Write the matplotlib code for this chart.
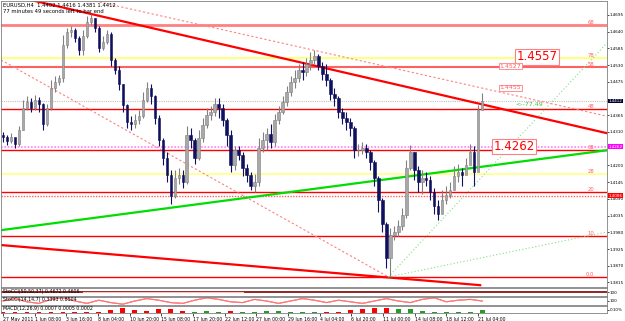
import matplotlib.pyplot as plt
import matplotlib.transforms as mtransforms
from matplotlib.patches import Rectangle

# --- DATA: EURUSD H4 (one candle = two H4 bars) ---
first_open = 1.4300
closes = [1.4293, 1.4280, 1.4293, 1.4270, 1.4316, 1.4389, 1.4408, 1.4389, 1.4415, 1.4402,
          1.4336, 1.4389, 1.4455, 1.4474, 1.4488, 1.4596, 1.4638, 1.4645, 1.4619, 1.4580,
          1.4625, 1.4671, 1.4685, 1.4652, 1.4586, 1.4606, 1.4632, 1.4547, 1.4514, 1.4468,
          1.4399, 1.4342, 1.4336, 1.4349, 1.4362, 1.4415, 1.4455, 1.4428, 1.4356, 1.4283,
          1.4224, 1.4168, 1.4099, 1.4159, 1.4168, 1.4145, 1.4300, 1.4283, 1.4224, 1.4290,
          1.4333, 1.4366, 1.4375, 1.4402, 1.4389, 1.4349, 1.4300, 1.4201, 1.4250, 1.4234,
          1.4191, 1.4168, 1.4132, 1.4145, 1.4257, 1.4283, 1.4303, 1.4276, 1.4349, 1.4375,
          1.4408, 1.4441, 1.4474, 1.4488, 1.4514, 1.4507, 1.4534, 1.4547, 1.4560, 1.4527,
          1.4501, 1.4481, 1.4435, 1.4422, 1.4375, 1.4356, 1.4342, 1.4323, 1.4250, 1.4250,
          1.4257, 1.4243, 1.4211, 1.4159, 1.4086, 1.4007, 1.3895, 1.3971, 1.3981, 1.4001,
          1.4037, 1.4191, 1.4243, 1.4185, 1.4145, 1.4159, 1.4152, 1.4112, 1.4066, 1.4040,
          1.4086, 1.4103, 1.4119, 1.4165, 1.4178, 1.4168, 1.4201, 1.4243, 1.4178, 1.4382,
          1.4412]
highs = [1.4309, 1.4300, 1.4306, 1.4290, 1.4329, 1.4415, 1.4428, 1.4422, 1.4432, 1.4425,
         1.4405, 1.4402, 1.4481, 1.4494, 1.4497, 1.4629, 1.4652, 1.4658, 1.4652, 1.4625,
         1.4645, 1.4691, 1.4698, 1.4685, 1.4658, 1.4625, 1.4645, 1.4638, 1.4554, 1.4527,
         1.4468, 1.4402, 1.4362, 1.4369, 1.4382, 1.4441, 1.4474, 1.4468, 1.4432, 1.4366,
         1.4290, 1.4243, 1.4185, 1.4185, 1.4191, 1.4185, 1.4329, 1.4323, 1.4290, 1.4316,
         1.4356, 1.4389, 1.4395, 1.4422, 1.4422, 1.4402, 1.4356, 1.4316, 1.4263, 1.4263,
         1.4243, 1.4205, 1.4178, 1.4172, 1.4290, 1.4309, 1.4323, 1.4336, 1.4369, 1.4395,
         1.4428, 1.4461, 1.4494, 1.4514, 1.4534, 1.4540, 1.4554, 1.4573, 1.4580, 1.4567,
         1.4540, 1.4534, 1.4488, 1.4455, 1.4428, 1.4389, 1.4375, 1.4356, 1.4329, 1.4270,
         1.4276, 1.4270, 1.4250, 1.4218, 1.4165, 1.4093, 1.4014, 1.3994, 1.4001, 1.4020,
         1.4060, 1.4218, 1.4267, 1.4243, 1.4198, 1.4185, 1.4178, 1.4165, 1.4126, 1.4086,
         1.4119, 1.4132, 1.4145, 1.4198, 1.4205, 1.4191, 1.4224, 1.4270, 1.4263, 1.4399,
         1.4438]
lows = [1.4276, 1.4267, 1.4273, 1.4257, 1.4263, 1.4316, 1.4382, 1.4375, 1.4382, 1.4375,
        1.4316, 1.4329, 1.4382, 1.4441, 1.4465, 1.4474, 1.4586, 1.4622, 1.4606, 1.4563,
        1.4563, 1.4619, 1.4662, 1.4638, 1.4573, 1.4580, 1.4599, 1.4527, 1.4501, 1.4448,
        1.4375, 1.4323, 1.4316, 1.4323, 1.4336, 1.4356, 1.4408, 1.4402, 1.4336, 1.4263,
        1.4201, 1.4145, 1.4073, 1.4093, 1.4139, 1.4126, 1.4139, 1.4257, 1.4205, 1.4218,
        1.4276, 1.4323, 1.4349, 1.4362, 1.4356, 1.4329, 1.4263, 1.4178, 1.4185, 1.4218,
        1.4165, 1.4145, 1.4119, 1.4112, 1.4132, 1.4243, 1.4250, 1.4257, 1.4263, 1.4336,
        1.4369, 1.4395, 1.4428, 1.4455, 1.4474, 1.4481, 1.4494, 1.4514, 1.4534, 1.4514,
        1.4481, 1.4461, 1.4415, 1.4395, 1.4356, 1.4336, 1.4316, 1.4296, 1.4224, 1.4230,
        1.4237, 1.4224, 1.4185, 1.4132, 1.4047, 1.3981, 1.3863, 1.3833, 1.3954, 1.3967,
        1.3987, 1.4027, 1.4185, 1.4152, 1.4112, 1.4106, 1.4132, 1.4086, 1.4040, 1.4020,
        1.4047, 1.4073, 1.4093, 1.4132, 1.4145, 1.4132, 1.4178, 1.4218, 1.4132, 1.4185,
        1.4395]

date_labels = ["27 May 2011", "1 Jun 08:00", "3 Jun 16:00", "8 Jun 04:00", "10 Jun 20:00",
               "15 Jun 08:00", "17 Jun 20:00", "22 Jun 12:00", "27 Jun 00:00", "29 Jun 16:00",
               "4 Jul 04:00", "6 Jul 20:00", "11 Jul 00:00", "14 Jul 08:00", "18 Jul 12:00",
               "21 Jul 04:00"]
# price scale labels (1.4420 and 1.4255 are hidden under the price boxes)
price_ticks = [1.4695, 1.4640, 1.4585, 1.4530, 1.4475, 1.4365, 1.4310,
               1.4200, 1.4145, 1.4090, 1.4035, 1.3980, 1.3925, 1.3870, 1.3815]

# horizontal levels (price, fibo label)
level_prices = [1.4662, 1.4553, 1.4524, 1.4385, 1.4250, 1.4171, 1.4112, 1.3967, 1.3833]
level_labels = ["68", "78", "58", "48", "38", "28", "20", "10", "0.0"]
magenta_level = 1.4262
dotted_red_level = 1.4100
last_price = 1.4412
red_box_price = 1.4086

# trendlines: (candle index, price) pairs
upper_trend = [(7, 1.4744), (151.25, 1.4306)]
upper_channel = [(22, 1.4744), (151.25, 1.4362)]
fall_line = [(-0.5, 1.4547), (96.5, 1.3833)]
lower_trend = [(-0.5, 1.3938), (119.5, 1.3806)]
green_trend = [(-0.5, 1.3987), (151.25, 1.4250)]
fan_steep = [(96.5, 1.3833), (151.25, 1.4603)]
fan_flat = [(96.5, 1.3833), (151.25, 1.3981)]

# oscillator windows (one value every three candles)
osc_wave = [0.5, 0.8, 0.4, 0.2, 0.7, 0.9, 0.5, 0.2, 0.6, 0.3, 0.1, 0.5, 0.8, 0.6, 0.3, 0.2,
            0.6, 0.9, 0.7, 0.4, 0.3, 0.7, 0.5, 0.2, 0.5, 0.8, 0.6, 0.3, 0.6, 0.4, 0.2, 0.5,
            0.8, 0.5, 0.3, 0.7, 0.9, 0.4, 0.6, 0.7, 0.5]
hist_vals = [0.1, 0.1, 0.15, 0.1, 0.1, 0.15, 0.1, 0.1, 0.2, 0.5, 0.8, 0.4, 0.3, 0.6, 0.7,
             0.3, -0.2, -0.25, -0.2, 0.3, -0.15, -0.2, -0.35, -0.3, -0.2, -0.15, -0.1, 0.1,
             0.15, 0.4, 0.6, 0.8, 0.9, -0.6, -0.7, -0.3, -0.15, -0.2, -0.15, -0.2, -0.5]

W, H = 625, 321
fig = plt.figure(figsize=(W / 100, H / 100), dpi=100)
fig.patch.set_facecolor("white")


def box(x0, y0, x1, y1):
    return [x0 / W, 1 - y1 / H, (x1 - x0) / W, (y1 - y0) / H]


XMIN, XMAX = -0.5, 151.25
ax = fig.add_axes(box(1, 1, 607, 287))
s1 = fig.add_axes(box(1, 288, 607, 296))
s2 = fig.add_axes(box(1, 297, 607, 305))
s3 = fig.add_axes(box(1, 306, 607, 313))
for a in (ax, s1, s2, s3):
    a.set_xlim(XMIN, XMAX)
    for sp in a.spines.values():
        sp.set_color("#808080")
        sp.set_linewidth(0.6)

ax.set_ylim(1.3800, 1.4741)

# horizontal levels
lv_colors = ["#ff8080", "#ffff80", "#ff6060", "red", "red", "#ffffa0", "red", "red", "red"]
lv_widths = [2.0, 1.5, 1.5, 1.0, 1.0, 1.5, 1.0, 1.0, 1.0]
for p, lab, c, w in zip(level_prices, level_labels, lv_colors, lv_widths):
    ax.axhline(p, color=c, lw=w, zorder=1)
    ax.text(148, p, lab, color="#ff6060", fontsize=3.8, ha="right", va="bottom", zorder=5)
ax.axhline(magenta_level, color="#ff80ff", lw=1.2, ls=(0, (1, 1)), zorder=1)
ax.axhline(dotted_red_level, color="#ff6060", lw=1.0, ls=(0, (1, 1)), zorder=1)
ax.axhline(last_price, color="#c0c0c0", lw=0.8, ls=(0, (1, 1)), zorder=1)


def seg(line, **kw):
    (x0, y0), (x1, y1) = line
    ax.plot([x0, x1], [y0, y1], **kw)


seg(upper_trend, color="red", lw=1.6, zorder=2)
seg(upper_channel, color="#ff8080", lw=0.8, ls=(0, (2, 2)), zorder=2)
seg(fall_line, color="#ff8080", lw=0.8, ls=(0, (2, 2)), zorder=2)
seg(lower_trend, color="red", lw=1.6, zorder=2)
seg(green_trend, color="#00dd00", lw=1.6, zorder=2)
seg(fan_steep, color="#80e080", lw=0.8, ls=(0, (1, 2)), zorder=2)
seg(fan_flat, color="#80e080", lw=0.8, ls=(0, (1, 2)), zorder=2)

# candles
opens = [first_open] + closes[:-1]
for i, (o, h, l, c) in enumerate(zip(opens, highs, lows, closes)):
    bull = c >= o
    col = "#808080" if bull else "#101060"
    face = "#a8a8a8" if bull else "#101060"
    ax.vlines(i, l, h, color=col, lw=0.8, zorder=3)
    ax.add_patch(Rectangle((i - 0.3, min(o, c)), 0.6, max(abs(c - o), 0.0002),
                           facecolor=face, edgecolor=col, lw=0.4, zorder=4))

# price notes
ax.text(133.75, 1.4557, "1.4557", color="red", fontsize=8.5, ha="center", va="center",
        bbox=dict(boxstyle="square,pad=0.1", fc="white", ec="#ff8080", lw=0.8), zorder=6)
ax.text(127, 1.4527, "1.4527", color="#ff6060", fontsize=4.5, ha="center", va="center",
        bbox=dict(boxstyle="square,pad=0.1", fc="white", ec="#ff8080", lw=0.6), zorder=6)
ax.text(127, 1.4455, "1.4455", color="#ff6060", fontsize=4.5, ha="center", va="center",
        bbox=dict(boxstyle="square,pad=0.1", fc="white", ec="#ff8080", lw=0.6), zorder=6)
ax.text(128, 1.4262, "1.4262", color="red", fontsize=8.5, ha="center", va="center",
        bbox=dict(boxstyle="square,pad=0.1", fc="white", ec="#ff8080", lw=0.8), zorder=6)
ax.text(128.25, 1.4399, "<--77.49", color="#40c040", fontsize=4.5, ha="left", va="center",
        zorder=6)

# title
ax.text(0.004, 0.995, "EURUSD,H4  1.4402 1.4416 1.4381 1.4412", transform=ax.transAxes,
        fontsize=3.8, va="top", ha="left")
ax.text(0.004, 0.973, "77 minutes 49 seconds left to bar end", transform=ax.transAxes,
        fontsize=3.8, va="top", ha="left")

# right price scale
ax.yaxis.tick_right()
ax.set_yticks(price_ticks)
ax.set_yticklabels([f"{p:.4f}" for p in price_ticks], fontsize=3.0)
ax.tick_params(axis="y", length=1.5, width=0.5, pad=0.5, colors="black")
ax.set_xticks([])
trans = mtransforms.blended_transform_factory(ax.transAxes, ax.transData)
for p, yp, fc in [(last_price, last_price, "#000030"), (magenta_level, magenta_level, "#ff00ff"),
                  (red_box_price, dotted_red_level, "red")]:
    ax.text(1.003, yp, f"{p:.4f}", transform=trans, fontsize=3.0, color="white", va="center",
            ha="left", bbox=dict(boxstyle="square,pad=0.1", fc=fc, ec="none"),
            zorder=7, clip_on=False)

# oscillator windows
xs = [3 * k for k in range(len(osc_wave))]
s1.set_ylim(0, 1)
s1.plot([XMIN, XMAX], [0.45, 0.45], color="#800000", lw=1.2)
s1.plot([20, 60], [0.55, 0.55], color="#ffc0c0", lw=0.8)
s1.text(0.004, 0.9, "StoCCI(50,50,37) 0.4672 0.4606", transform=s1.transAxes, fontsize=3.4,
        va="top")
s2.set_ylim(0, 1)
s2.plot(xs, osc_wave, color="red", lw=0.8)
s2.plot(xs, osc_wave, color="white", lw=0.3)
s2.text(0.004, 0.95, "StoCCI(14,14,7) 0.3393 0.8504", transform=s2.transAxes, fontsize=3.4,
        va="top")
s3.set_ylim(0, 1)
for x, v in zip(xs, hist_vals):
    s3.bar(x, abs(v) * 0.8, width=1.2, bottom=0.05, color="red" if v > 0 else "#20a020")
s3.axhline(0.06, color="blue", lw=0.6, ls=(0, (1, 1)))
s3.text(0.004, 0.95, "MACD(12,26,9) 0.0007 0.0005 0.0002", transform=s3.transAxes,
        fontsize=3.4, va="top")
for a, lab in [(s1, "100"), (s2, "100"), (s3, "0.10%")]:
    a.yaxis.tick_right()
    a.set_yticks([0.5])
    a.set_yticklabels([lab], fontsize=3.0)
    a.tick_params(axis="y", length=1.5, width=0.5, pad=0.5)
    for sp in ("top", "bottom"):
        a.spines[sp].set_linestyle((0, (1, 1)))
for a in (s1, s2):
    a.set_xticks([])

s3.set_xticks([k * 7.93 for k in range(len(date_labels))])
s3.set_xticklabels(date_labels, fontsize=3.3, ha="left")
s3.tick_params(axis="x", length=2, width=0.5, pad=1)

fig.savefig("out.png", dpi=100)
